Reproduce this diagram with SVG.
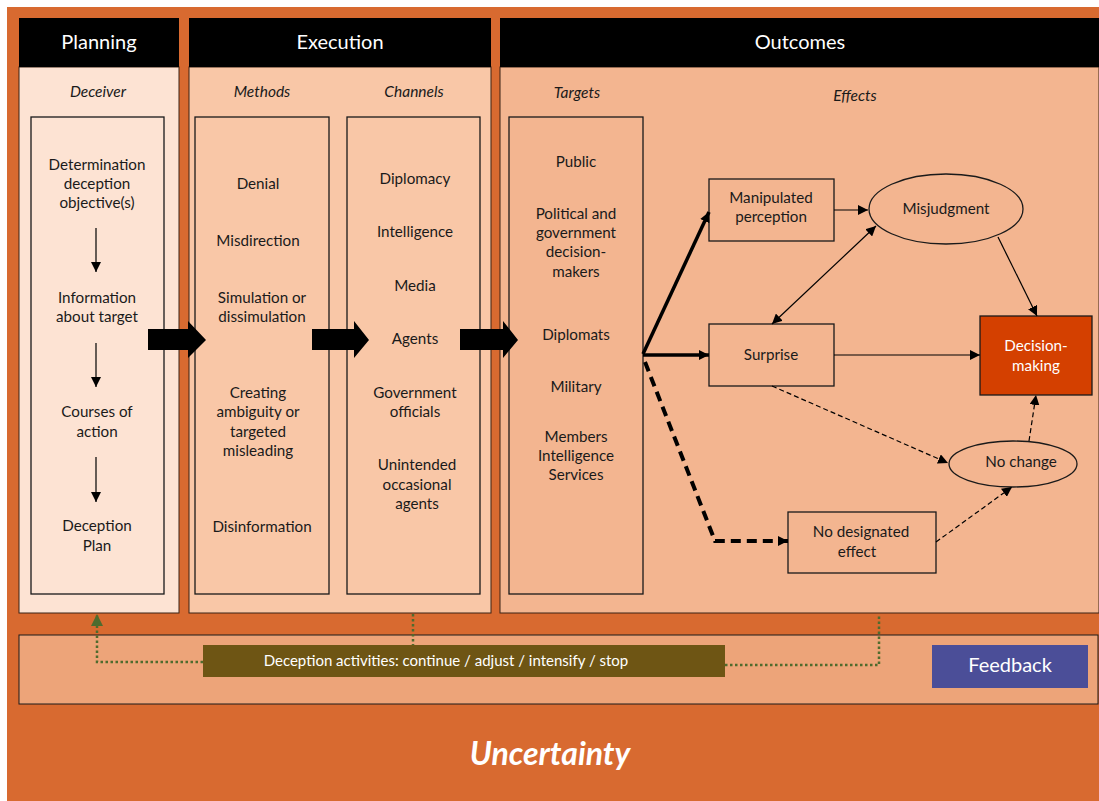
<svg xmlns="http://www.w3.org/2000/svg" width="1099" height="801" viewBox="0 0 1099 801">
<defs>
<style>
text{font-family:"Lato","Liberation Sans",sans-serif;fill:#1a1a1a;font-size:15.2px;text-anchor:middle}
.hd{fill:#fff;font-size:20px}
.it{font-style:italic;font-size:15.5px}
.box{fill:none;stroke:#1a1a1a;stroke-width:1.3}
.node{stroke:#1a1a1a;stroke-width:1.3;fill:#F3B590}
.thin{stroke:#000;stroke-width:1.2;fill:none}
.dsh{stroke:#000;stroke-width:1.2;fill:none;stroke-dasharray:5,3}
.fb{stroke:#4F6B2E;stroke-width:2.5;fill:none;stroke-dasharray:2.5,2.5}
</style>
<marker id="ah" viewBox="0 0 10 10" refX="10" refY="5" markerWidth="10" markerHeight="10" markerUnits="userSpaceOnUse" orient="auto-start-reverse"><path d="M0,0L10,5L0,10Z" fill="#000"/></marker>
<marker id="ahg" viewBox="0 0 10 10" refX="10" refY="5" markerWidth="14" markerHeight="12" markerUnits="userSpaceOnUse" orient="auto"><path d="M0,0L10,5L0,10Z" fill="#4F6B2E"/></marker>
</defs>
<rect x="7" y="7" width="1092" height="794" fill="#D86A30"/>

<g id="planning">
<rect x="19" y="67" width="160" height="546" fill="#FDE3D3" stroke="#3b2314" stroke-width="1"/>
<rect x="19" y="18" width="160" height="49" fill="#000"/>
<text class="hd" x="99" y="49">Planning</text>
<text class="it" x="98" y="97">Deceiver</text>
<rect class="box" x="31" y="117" width="133" height="477"/>
<text x="97" y="170">Determination</text>
<text x="97" y="189">deception</text>
<text x="97" y="208">objective(s)</text>
<text x="97" y="303">Information</text>
<text x="97" y="322">about target</text>
<text x="97" y="417">Courses of</text>
<text x="97" y="437">action</text>
<text x="97" y="531">Deception</text>
<text x="97" y="551">Plan</text>
</g>

<g id="execution">
<rect x="189" y="67" width="302" height="546" fill="#F9C7A7" stroke="#3b2314" stroke-width="1"/>
<rect x="189" y="18" width="302" height="49" fill="#000"/>
<text class="hd" x="340" y="49">Execution</text>
<text class="it" x="262" y="97">Methods</text>
<text class="it" x="414" y="97">Channels</text>
<rect class="box" x="195" y="117" width="134" height="477"/>
<rect class="box" x="347" y="117" width="133" height="477"/>
<text x="258" y="189">Denial</text>
<text x="258" y="246">Misdirection</text>
<text x="262" y="303">Simulation or</text>
<text x="262" y="322">dissimulation</text>
<text x="258" y="398">Creating</text>
<text x="258" y="417">ambiguity or</text>
<text x="258" y="437">targeted</text>
<text x="258" y="456">misleading</text>
<text x="262" y="532">Disinformation</text>
<text x="415" y="184">Diplomacy</text>
<text x="415" y="237">Intelligence</text>
<text x="415" y="291">Media</text>
<text x="415" y="344">Agents</text>
<text x="415" y="398">Government</text>
<text x="415" y="417">officials</text>
<text x="417" y="470">Unintended</text>
<text x="417" y="490">occasional</text>
<text x="417" y="509">agents</text>
</g>

<g id="outcomes">
<rect x="500" y="67" width="599" height="546" fill="#F3B590" stroke="#3b2314" stroke-width="1"/>
<rect x="500" y="18" width="599" height="49" fill="#000"/>
<text class="hd" x="800" y="49">Outcomes</text>
<text class="it" x="577" y="98">Targets</text>
<text class="it" x="855" y="101">Effects</text>
<rect class="box" x="509" y="117" width="134" height="477"/>
<text x="576" y="167">Public</text>
<text x="576" y="219">Political and</text>
<text x="576" y="238">government</text>
<text x="576" y="257">decision-</text>
<text x="576" y="277">makers</text>
<text x="576" y="340">Diplomats</text>
<text x="576" y="392">Military</text>
<text x="576" y="442">Members</text>
<text x="576" y="461">Intelligence</text>
<text x="576" y="480">Services</text>
</g>

<g id="manipulated">
<rect class="node" x="709" y="179" width="125" height="62"/>
<text x="771" y="203">Manipulated</text>
<text x="771" y="222">perception</text>
</g>
<g id="misjudgment">
<ellipse class="node" cx="946" cy="209" rx="77" ry="35"/>
<text x="946" y="214">Misjudgment</text>
</g>
<g id="surprise">
<rect class="node" x="709" y="324" width="125" height="62"/>
<text x="771" y="360">Surprise</text>
</g>
<g id="decision">
<rect x="980" y="316" width="112" height="79" fill="#D44000" stroke="#1a1a1a" stroke-width="1.3"/>
<text x="1036" y="351" style="fill:#fff">Decision-</text>
<text x="1036" y="371" style="fill:#fff">making</text>
</g>
<g id="nochange">
<ellipse class="node" cx="1013" cy="464" rx="64" ry="23"/>
<text x="1021" y="467">No change</text>
</g>
<g id="nodesignated">
<rect class="node" x="788" y="512" width="148" height="61"/>
<text x="861" y="537">No designated</text>
<text x="857" y="557">effect</text>
</g>

<g id="feedback">
<rect x="19" y="635" width="1079" height="69" fill="#EDA479" stroke="#1a1a1a" stroke-width="1"/>
<rect x="203" y="645" width="522" height="32" fill="#6E5514"/>
<text x="446" y="666" style="fill:#fff;font-size:15px">Deception activities: continue / adjust / intensify / stop</text>
<rect x="932" y="645" width="156" height="43" fill="#4B4E98"/>
<text x="1010" y="672" style="fill:#fff;font-size:20px">Feedback</text>
</g>
<text x="550" y="765" style="fill:#fff;font-size:32px;font-weight:bold;font-style:italic">Uncertainty</text>

<g id="connectors">
<path d="M96,228V272" class="thin" marker-end="url(#ah)"/>
<path d="M96,343V387" class="thin" marker-end="url(#ah)"/>
<path d="M96,457V502" class="thin" marker-end="url(#ah)"/>
<path d="M148,329H188V321L206,340L188,358V350H148Z" fill="#000"/>
<path d="M312,329H354V321L369,340L354,358V350H312Z" fill="#000"/>
<path d="M460,329H503V321L518,340L503,358V350H460Z" fill="#000"/>
<path d="M643,354L709,212" stroke="#000" stroke-width="3.5" fill="none" marker-end="url(#ah)"/>
<path d="M643,355H709" stroke="#000" stroke-width="3.5" fill="none" marker-end="url(#ah)"/>
<path d="M645,362L715,541H788" stroke="#000" stroke-width="4" stroke-dasharray="10,6" fill="none" marker-end="url(#ah)"/>
<path d="M834,210H868" class="thin" marker-end="url(#ah)"/>
<path d="M772,324L876,226" class="thin" marker-start="url(#ah)" marker-end="url(#ah)"/>
<path d="M998,237L1037,316" class="thin" marker-end="url(#ah)"/>
<path d="M834,355H980" class="thin" marker-end="url(#ah)"/>
<path d="M772,386L948,463" class="dsh" marker-end="url(#ah)"/>
<path d="M1029,441L1036,395" class="dsh" marker-end="url(#ah)"/>
<path d="M936,542L1012,487" class="dsh" marker-end="url(#ah)"/>
<path d="M203,662H97V614" class="fb" marker-end="url(#ahg)"/>
<path d="M413,614V645" class="fb"/>
<path d="M725,665H879V614" class="fb"/>
</g>
</svg>
